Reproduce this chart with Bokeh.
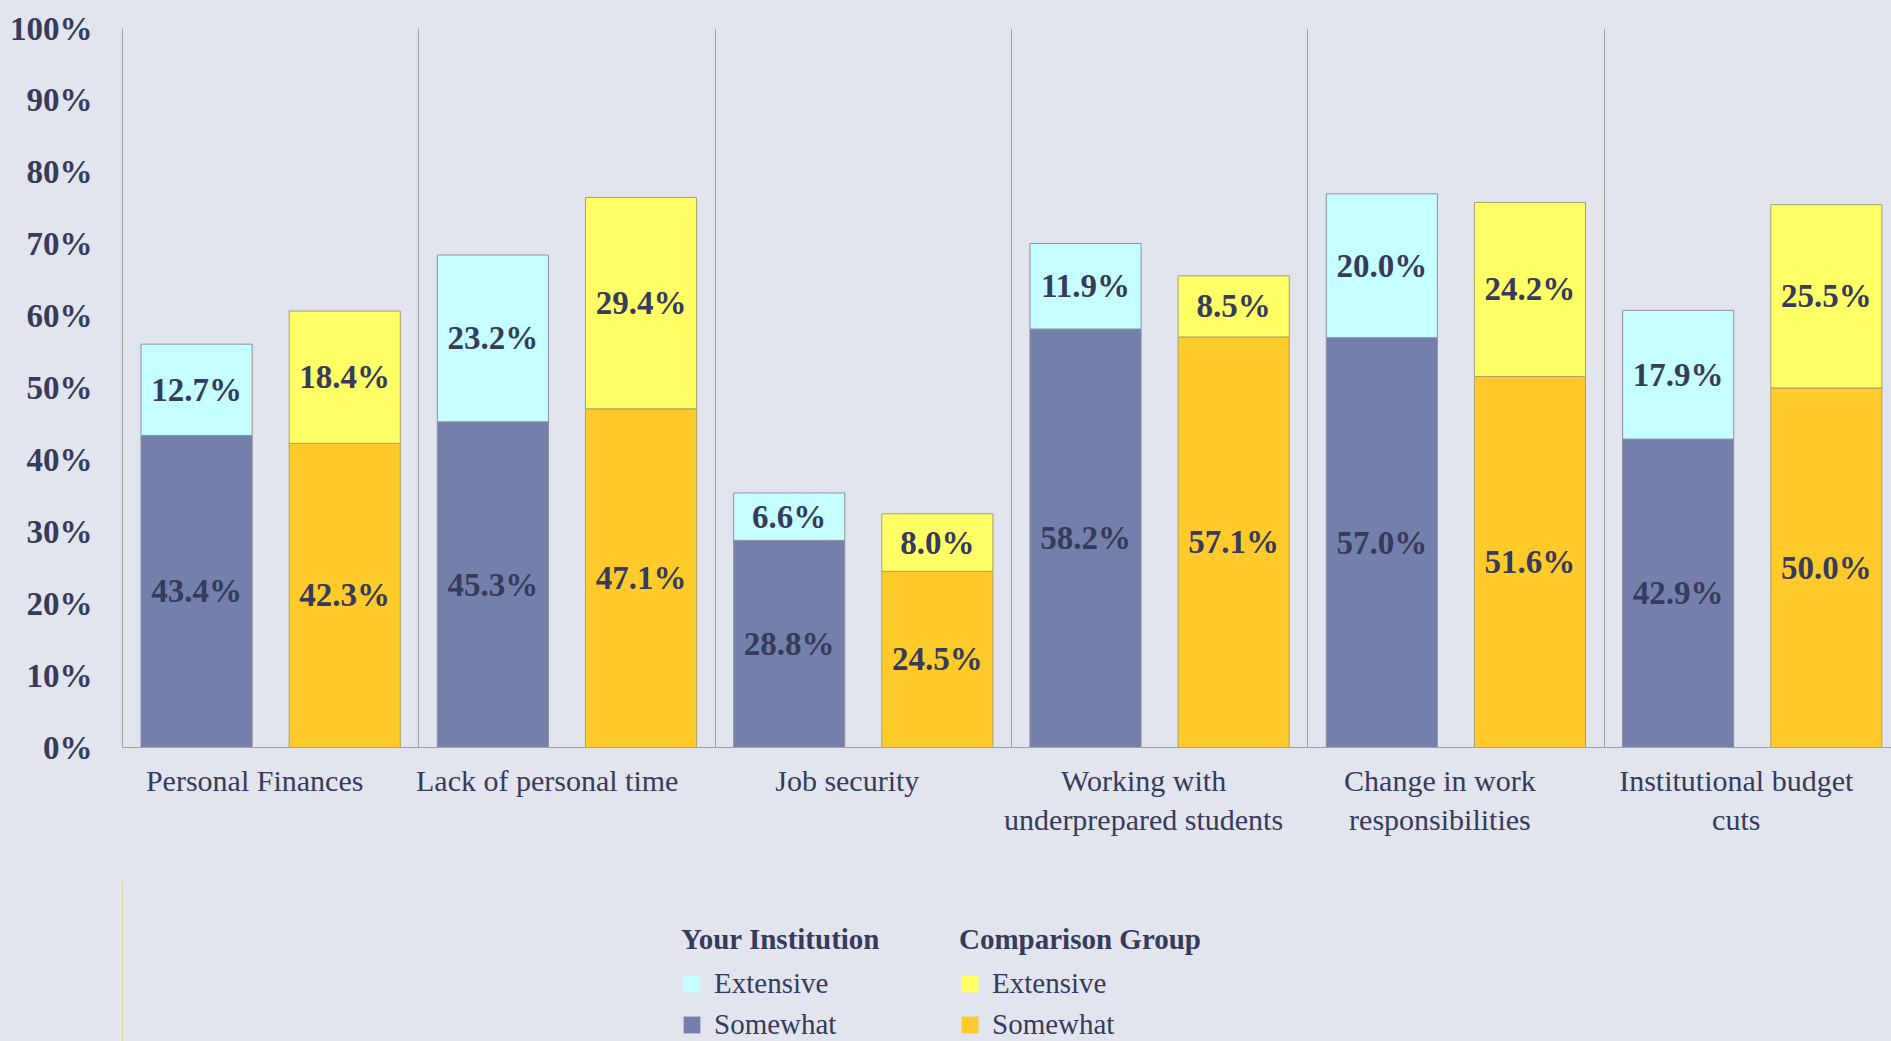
from bokeh.plotting import figure
from bokeh.layouts import column
from bokeh.models import ColumnDataSource, Range1d, FixedTicker, Legend, LegendItem
from bokeh.core.properties import value
from bokeh.embed import file_html
from bokeh.resources import INLINE

categories = ["Personal Finances", "Lack of  personal time", "Job security",
              "Working with\nunderprepared students", "Change in work\nresponsibilities",
              "Institutional budget\ncuts"]
your_somewhat = [43.4, 45.3, 28.8, 58.2, 57.0, 42.9]
your_extensive = [12.7, 23.2, 6.6, 11.9, 20.0, 17.9]
comp_somewhat = [42.3, 47.1, 24.5, 57.1, 51.6, 50.0]
comp_extensive = [18.4, 29.4, 8.0, 8.5, 24.2, 25.5]
y_ticks = [0, 10, 20, 30, 40, 50, 60, 70, 80, 90, 100]

BG = "#E2E5ED"
TXT = "#363B5C"
FONT = "Liberation Serif"
C_YS, C_YE = "#7480AB", "#C6FFFF"
C_CS, C_CE = "#FFCA2A", "#FFFF66"

n = len(categories)
idx = list(range(n))

def make_source(offset, somewhat, extensive):
    return ColumnDataSource(dict(
        x=[i + offset for i in idx], somewhat=somewhat, extensive=extensive,
        ys=[s / 2 for s in somewhat],
        ye=[s + e / 2 for s, e in zip(somewhat, extensive)],
        ls=[f"{v:.1f}%" for v in somewhat], le=[f"{v:.1f}%" for v in extensive]))

src_y = make_source(0.25, your_somewhat, your_extensive)
src_c = make_source(0.75, comp_somewhat, comp_extensive)

p = figure(width=1891, height=880, output_backend="svg", toolbar_location=None,
           x_range=Range1d(0, 5.97), y_range=Range1d(0, 100),
           min_border_left=122, min_border_right=0, min_border_top=28, min_border_bottom=133)
p.background_fill_color = BG
p.border_fill_color = BG
p.outline_line_color = None

W = 0.375
p.vbar_stack(["somewhat", "extensive"], x="x", width=W, source=src_y,
             color=[C_YS, C_YE], line_color="#8E8E9E", line_width=1)
p.vbar_stack(["somewhat", "extensive"], x="x", width=W, source=src_c,
             color=[C_CS, C_CE], line_color="#A8A070", line_width=1)

for src in (src_y, src_c):
    for ycol, tcol in (("ys", "ls"), ("ye", "le")):
        p.text(x="x", y=ycol, text=tcol, source=src, text_align="center",
               text_baseline="middle", text_font=value(FONT), text_font_style="bold",
               text_font_size="33px", text_color=TXT)

p.yaxis.ticker = FixedTicker(ticks=y_ticks)
p.yaxis.major_label_overrides = {t: f"{t}%" for t in y_ticks}
p.yaxis.major_label_text_font = FONT
p.yaxis.major_label_text_font_style = "bold"
p.yaxis.major_label_text_font_size = "33px"
p.yaxis.major_label_text_color = TXT
p.yaxis.major_label_standoff = 24
p.yaxis.major_tick_line_color = None
p.yaxis.minor_tick_line_color = None
p.yaxis.axis_line_color = "#A0A0A0"

label_pos = [i + 0.446 for i in idx]
p.xaxis.ticker = FixedTicker(ticks=label_pos)
p.xaxis.major_label_overrides = {x: c for x, c in zip(label_pos, categories)}
p.xaxis.major_label_text_font = FONT
p.xaxis.major_label_text_font_size = "30px"
p.xaxis.major_label_text_color = TXT
p.xaxis.major_label_standoff = 10
p.xaxis.major_tick_line_color = None
p.xaxis.minor_tick_line_color = None
p.xaxis.axis_line_color = "#A0A0A0"

p.ygrid.grid_line_color = None
p.xgrid.ticker = FixedTicker(ticks=[1, 2, 3, 4, 5])
p.xgrid.grid_line_color = "#A0A0A0"
p.xgrid.grid_line_width = 1

# legend panel
lp = figure(width=1891, height=161, output_backend="svg", toolbar_location=None,
            x_range=Range1d(0, 1), y_range=Range1d(0, 1),
            x_axis_type=None, y_axis_type=None,
            min_border_left=122, min_border_right=0, min_border_top=0, min_border_bottom=0)
lp.background_fill_alpha = 0
lp.border_fill_alpha = 0
lp.outline_line_color = None
lp.grid.visible = False

def swatch(color):
    # one dummy bar placed outside the visible range; only its legend swatch shows
    return lp.vbar(x=[-5], top=[1], width=0.1, fill_color=color, line_color=None)

def make_legend(title, items, loc):
    lg = Legend(items=items, title=title, location=loc, orientation="vertical",
                padding=0, margin=0, spacing=8, title_standoff=11,
                border_line_color=None, background_fill_alpha=0,
                glyph_width=21, glyph_height=21, label_standoff=12,
                label_text_font=FONT, label_text_font_size="29px", label_text_color=TXT,
                title_text_font=FONT, title_text_font_size="29px",
                title_text_font_style="bold", title_text_color=TXT)
    lp.add_layout(lg, "center")

make_legend("Your Institution", [LegendItem(label="Extensive", renderers=[swatch(C_YE)]),
                                 LegendItem(label="Somewhat", renderers=[swatch(C_YS)])], (559, 0))
make_legend("Comparison Group", [LegendItem(label="Extensive", renderers=[swatch(C_CE)]),
                                 LegendItem(label="Somewhat", renderers=[swatch(C_CS)])], (837, 0))

layout = column(p, lp, styles={"background-color": BG})
open("out.html", "w").write(file_html(layout, INLINE))
